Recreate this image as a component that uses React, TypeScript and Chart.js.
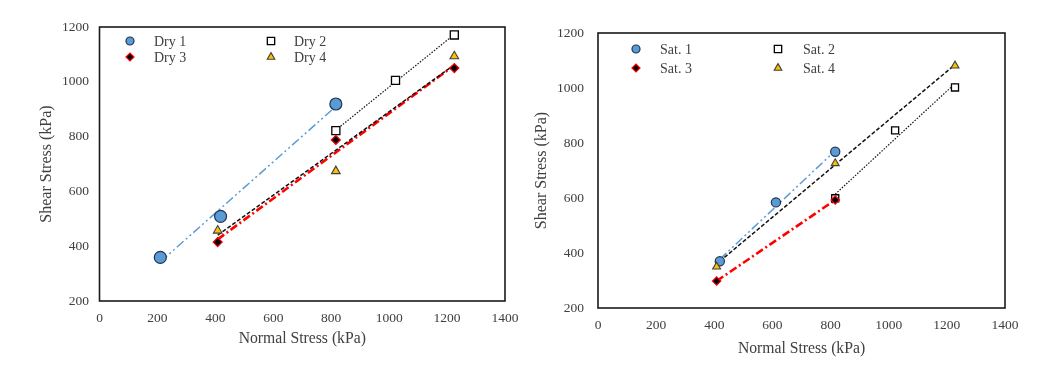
import React, { useEffect, useRef } from "react";
import { Chart, registerables } from "chart.js";
import { drawPoint } from "chart.js/helpers";

Chart.register(...registerables);

// ---------- Data: Dry specimens ----------
const dry1X = [210, 418, 816];
const dry1Y = [359, 509, 919];
const dry2X = [816, 1022, 1225];
const dry2Y = [822, 1005, 1171];
const dry3X = [408, 816, 1225];
const dry3Y = [415, 788, 1050];
const dry4X = [408, 816, 1225];
const dry4Y = [457, 674, 1093];
// trend lines (end points)
const dry1FitX = [210, 816];
const dry1FitY = [343, 910];
const dry2FitX = [816, 1225];
const dry2FitY = [824, 1173];
const dry3FitX = [408, 1225];
const dry3FitY = [425, 1060];
const dry4FitX = [408, 1225];
const dry4FitY = [440, 1062];

// ---------- Data: Saturated specimens ----------
const sat1X = [419, 612, 816];
const sat1Y = [370, 584, 768];
const sat2X = [816, 1022, 1228];
const sat2Y = [599, 846, 1002];
const sat3X = [408, 816];
const sat3Y = [298, 593];
const sat4X = [408, 816, 1228];
const sat4Y = [350, 726, 1081];
const sat1FitX = [419, 816];
const sat1FitY = [377, 772];
const sat2FitX = [816, 1228];
const sat2FitY = [614, 1016];
const sat3FitX = [408, 816];
const sat3FitY = [298, 593];
const sat4FitX = [419, 1228];
const sat4FitY = [370, 1085];

const dryLabels = ["Dry 1", "Dry 2", "Dry 3", "Dry 4"];
const satLabels = ["Sat. 1", "Sat. 2", "Sat. 3", "Sat. 4"];

const xAxisTitle = "Normal Stress (kPa)";
const yAxisTitle = "Shear Stress (kPa)";
const xMin = 0, xMax = 1400, xStep = 200;
const yMin = 200, yMax = 1200, yStep = 200;

const FONT = "'Liberation Serif', 'Times New Roman', serif";
const TEXT = "#404040";
const BLUE = "#5B9BD5";
const GOLD = "#FFC000";
const RED = "#FF0000";

const pts = (xs: number[], ys: number[]) => xs.map((x, i) => ({ x, y: ys[i] }));

type MarkerStyle = {
  pointStyle: string;
  bg: string;
  border: string;
  bw: number;
};
const markers: MarkerStyle[] = [
  { pointStyle: "circle", bg: BLUE, border: "#1F3550", bw: 1.2 },
  { pointStyle: "rect", bg: "#FFFFFF", border: "#000000", bw: 1.3 },
  { pointStyle: "rectRot", bg: "#000000", border: RED, bw: 1.2 },
  { pointStyle: "triangle", bg: GOLD, border: "#404040", bw: 1.1 },
];

function buildDatasets(
  series: { x: number[]; y: number[] }[],
  fits: { x: number[]; y: number[] }[],
  radii: number[]
) {
  const fitStyles = [
    { color: BLUE, width: 1.5, dash: [9, 3, 2, 3, 2, 3], order: 14 },
    { color: "#111111", width: 1.2, dash: [1.5, 1.5], order: 13 },
    { color: RED, width: 2.6, dash: [8, 3, 2, 3], order: 16 },
    { color: "#111111", width: 1.5, dash: [4, 2], order: 12 },
  ];
  const ds: any[] = [];
  fits.forEach((f, i) => {
    const s = fitStyles[i];
    ds.push({
      label: "fit" + i,
      data: pts(f.x, f.y),
      showLine: true,
      borderColor: s.color,
      borderWidth: s.width,
      borderDash: s.dash,
      pointRadius: 0,
      order: s.order,
    });
  });
  series.forEach((sr, i) => {
    const m = markers[i];
    ds.push({
      label: "s" + i,
      data: pts(sr.x, sr.y),
      showLine: false,
      pointStyle: m.pointStyle,
      pointRadius: radii[i],
      pointBackgroundColor: m.bg,
      pointBorderColor: m.border,
      pointBorderWidth: m.bw,
      order: 4 - i,
    });
  });
  return ds;
}

const frame = {
  id: "frame",
  beforeDatasetsDraw(chart: any) {
    const { ctx, chartArea: a } = chart;
    ctx.save();
    ctx.strokeStyle = "#1a1a1a";
    ctx.lineWidth = 1.6;
    ctx.strokeRect(a.left, a.top, a.right - a.left, a.bottom - a.top);
    ctx.restore();
  },
};

const customLegend = {
  id: "customLegend",
  afterDraw(chart: any, _args: any, opts: any) {
    if (!opts || !opts.items) return;
    const { ctx } = chart;
    ctx.save();
    opts.items.forEach((it: any, i: number) => {
      const m = markers[i];
      ctx.fillStyle = m.bg;
      ctx.strokeStyle = m.border;
      ctx.lineWidth = m.bw;
      drawPoint(ctx, { pointStyle: m.pointStyle, radius: it.r, borderWidth: m.bw, rotation: 0 } as any, it.mx, it.y);
      ctx.fillStyle = TEXT;
      ctx.font = `14px ${FONT}`;
      ctx.textAlign = "left";
      ctx.textBaseline = "middle";
      ctx.fillText(it.text, it.tx, it.y + 1);
    });
    ctx.restore();
  },
};

type Panel = {
  datasets: any[];
  padTop: number;
  padRight: number;
  yWidth: number;
  xHeight: number;
  yTickPad: number;
  xTickPad: number;
  yTitlePad: number;
  xTitlePad: number;
  legend: any[];
};

function ChartPanel({ panel, left }: { panel: Panel; left: number }) {
  const ref = useRef<HTMLCanvasElement | null>(null);
  useEffect(() => {
    if (!ref.current) return;
    const chart = new Chart(ref.current, {
      type: "scatter",
      data: { datasets: panel.datasets },
      plugins: [frame, customLegend],
      options: {
        animation: false,
        responsive: false,
        devicePixelRatio: 1,
        layout: { padding: { top: panel.padTop, right: panel.padRight, left: 0, bottom: 0 } },
        plugins: {
          legend: { display: false },
          tooltip: { enabled: false },
          customLegend: { items: panel.legend },
        } as any,
        scales: {
          x: {
            type: "linear",
            min: xMin,
            max: xMax,
            ticks: {
              stepSize: xStep,
              color: TEXT,
              font: { family: FONT, size: 13.5 },
              padding: panel.xTickPad,
              callback: (v: any) => String(v),
            },
            grid: { display: false, drawTicks: false, tickLength: 0 },
            border: { display: false },
            title: {
              display: true,
              text: xAxisTitle,
              color: TEXT,
              font: { family: FONT, size: 15.7 },
              padding: { top: 0, bottom: panel.xTitlePad },
            },
            afterFit: (s: any) => {
              s.height = panel.xHeight;
            },
          },
          y: {
            type: "linear",
            min: yMin,
            max: yMax,
            ticks: {
              stepSize: yStep,
              color: TEXT,
              font: { family: FONT, size: 13.5 },
              padding: panel.yTickPad,
              callback: (v: any) => String(v),
            },
            grid: { display: false, drawTicks: false, tickLength: 0 },
            border: { display: false },
            title: {
              display: true,
              text: yAxisTitle,
              color: TEXT,
              font: { family: FONT, size: 16 },
              padding: { top: panel.yTitlePad, bottom: 0 },
            },
            afterFit: (s: any) => {
              s.width = panel.yWidth;
            },
          },
        },
      } as any,
    });
    return () => chart.destroy();
  }, []);
  return (
    <canvas
      ref={ref}
      width={531}
      height={371}
      style={{ position: "absolute", left, top: 0, width: 531, height: 371 }}
    />
  );
}

const dryPanel: Panel = {
  datasets: buildDatasets(
    [
      { x: dry1X, y: dry1Y },
      { x: dry2X, y: dry2Y },
      { x: dry3X, y: dry3Y },
      { x: dry4X, y: dry4Y },
    ],
    [
      { x: dry1FitX, y: dry1FitY },
      { x: dry2FitX, y: dry2FitY },
      { x: dry3FitX, y: dry3FitY },
      { x: dry4FitX, y: dry4FitY },
    ],
    [6, 5.7, 4.5, 5]
  ),
  padTop: 27,
  padRight: 26,
  yWidth: 99.5,
  xHeight: 70,
  yTickPad: 10.5,
  xTickPad: 9,
  yTitlePad: 37.4,
  xTitlePad: 22.6,
  legend: [
    { text: dryLabels[0], mx: 130, tx: 154, y: 41, r: 4 },
    { text: dryLabels[1], mx: 271, tx: 294, y: 41, r: 5.2 },
    { text: dryLabels[2], mx: 130, tx: 154, y: 57, r: 4 },
    { text: dryLabels[3], mx: 271, tx: 294, y: 57, r: 4.4 },
  ],
};

const satPanel: Panel = {
  datasets: buildDatasets(
    [
      { x: sat1X, y: sat1Y },
      { x: sat2X, y: sat2Y },
      { x: sat3X, y: sat3Y },
      { x: sat4X, y: sat4Y },
    ],
    [
      { x: sat1FitX, y: sat1FitY },
      { x: sat2FitX, y: sat2FitY },
      { x: sat3FitX, y: sat3FitY },
      { x: sat4FitX, y: sat4FitY },
    ],
    [4.6, 5, 4.2, 4.6]
  ),
  padTop: 33,
  padRight: 57,
  yWidth: 67,
  xHeight: 63,
  yTickPad: 14,
  xTickPad: 9,
  yTitlePad: 1.4,
  xTitlePad: 12.6,
  legend: [
    { text: satLabels[0], mx: 105, tx: 129, y: 49, r: 4 },
    { text: satLabels[1], mx: 247, tx: 272, y: 49, r: 5.2 },
    { text: satLabels[2], mx: 105, tx: 129, y: 68, r: 4 },
    { text: satLabels[3], mx: 247, tx: 272, y: 68, r: 4.4 },
  ],
};

export default function App() {
  return (
    <div style={{ position: "absolute", left: 0, top: 0, width: 1062, height: 371, background: "#fff" }}>
      <ChartPanel panel={dryPanel} left={0} />
      <ChartPanel panel={satPanel} left={531} />
    </div>
  );
}
